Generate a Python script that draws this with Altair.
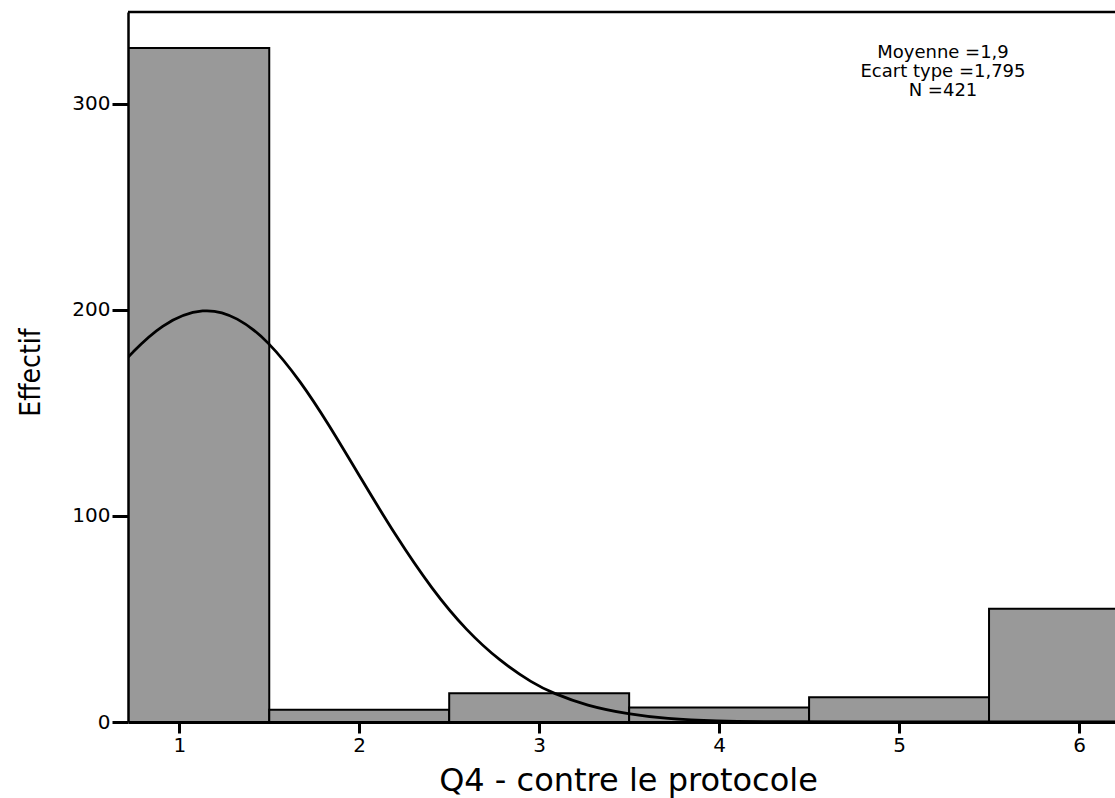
import altair as alt
import pandas as pd

# ---- data ----
categories = [1, 2, 3, 4, 5, 6]
counts = [327, 6, 14, 7, 12, 55]

curve_x = [0.715, 0.898, 1.139, 1.325, 1.492, 1.677, 1.826, 2.011, 2.197, 2.410,
           2.596, 2.781, 2.966, 3.077, 3.262, 3.501, 3.705, 3.98, 4.3, 4.8, 5.5, 6.2]
curve_y = [177.0, 193.3, 201.7, 196.5, 185.2, 165.0, 145.0, 118.0, 91.0, 63.6,
           44.3, 29.6, 18.7, 14.0, 7.9, 3.7, 1.6, 0.4, 0.1, 0.02, 0.0, 0.0]

stats_lines = ["Moyenne =1,9", "Ecart type =1,795", "N =421"]
x_ticks = [1, 2, 3, 4, 5, 6]
y_ticks = [0, 100, 200, 300]
x_title = "Q4 - contre le protocole"
y_title = "Effectif"

X_DOMAIN = [0.715, 6.2]
Y_DOMAIN = [0, 344.5]
W, H = 987, 710

bars_df = pd.DataFrame({
    "cat": categories,
    "start": [c - 0.5 for c in categories],
    "end": [c + 0.5 for c in categories],
    "count": counts,
})
curve_df = pd.DataFrame({"x": curve_x, "y": curve_y})
one_row = pd.DataFrame({"k": [0]})

xscale = alt.Scale(domain=X_DOMAIN, nice=False, zero=False)
yscale = alt.Scale(domain=Y_DOMAIN, nice=False, zero=True)

x_axis = alt.Axis(
    values=x_ticks, format="d", title=x_title, grid=False, zindex=1,
    domainColor="black", domainWidth=3,
    tickColor="black", tickWidth=3, tickSize=11,
    labelFont="DejaVu Sans", labelFontSize=20, labelColor="black",
    labelPadding=2, labelFlush=False,
    titleFont="DejaVu Sans", titleFontSize=32, titleFontWeight="normal",
    titleColor="black", titleX=500, titleY=68.5, titleAlign="center",
    titleBaseline="alphabetic",
)
y_axis = alt.Axis(
    values=y_ticks, format="d", title=y_title, grid=False, zindex=1,
    domainColor="black", domainWidth=2.5,
    tickColor="black", tickWidth=3, tickSize=16,
    labelFont="DejaVu Sans", labelFontSize=20, labelColor="black",
    labelPadding=2,
    titleFont="Liberation Sans Narrow, DejaVu Sans Condensed, sans-serif",
    titleFontSize=28, titleFontWeight="normal", titleColor="black",
    titleX=-97, titleY=360, titleAngle=270, titleAlign="center",
    titleBaseline="middle",
)

bars = alt.Chart(bars_df).mark_bar(
    color="#999999", stroke="black", strokeWidth=2, clip=True
).encode(
    x=alt.X("start:Q", scale=xscale, axis=x_axis),
    x2="end:Q",
    y=alt.Y("count:Q", scale=yscale, axis=y_axis),
    y2=alt.datum(0),
)

curve = alt.Chart(curve_df).mark_line(
    color="black", strokeWidth=2.8, interpolate="basis", clip=True
).encode(
    x=alt.X("x:Q", scale=xscale),
    y=alt.Y("y:Q", scale=yscale),
)

top_border = alt.Chart(one_row).mark_rule(color="black", strokeWidth=2.5).encode(
    x=alt.value(0), x2=alt.value(W), y=alt.value(0)
)

stats = alt.Chart(one_row).mark_text(
    font="DejaVu Sans", fontSize=18, align="center", baseline="middle",
    lineHeight=19, color="black"
).encode(
    x=alt.value(815), y=alt.value(40.5), text=alt.value(stats_lines)
)

chart = alt.layer(bars, curve, top_border, stats).properties(
    width=W, height=H,
    padding={"left": 128, "top": 12, "right": 0, "bottom": 76},
    autosize=alt.AutoSizeParams(type="none"),
    background="white",
).configure_view(stroke=None)

chart.save("out.html", embed_options={"renderer": "svg", "actions": False})
